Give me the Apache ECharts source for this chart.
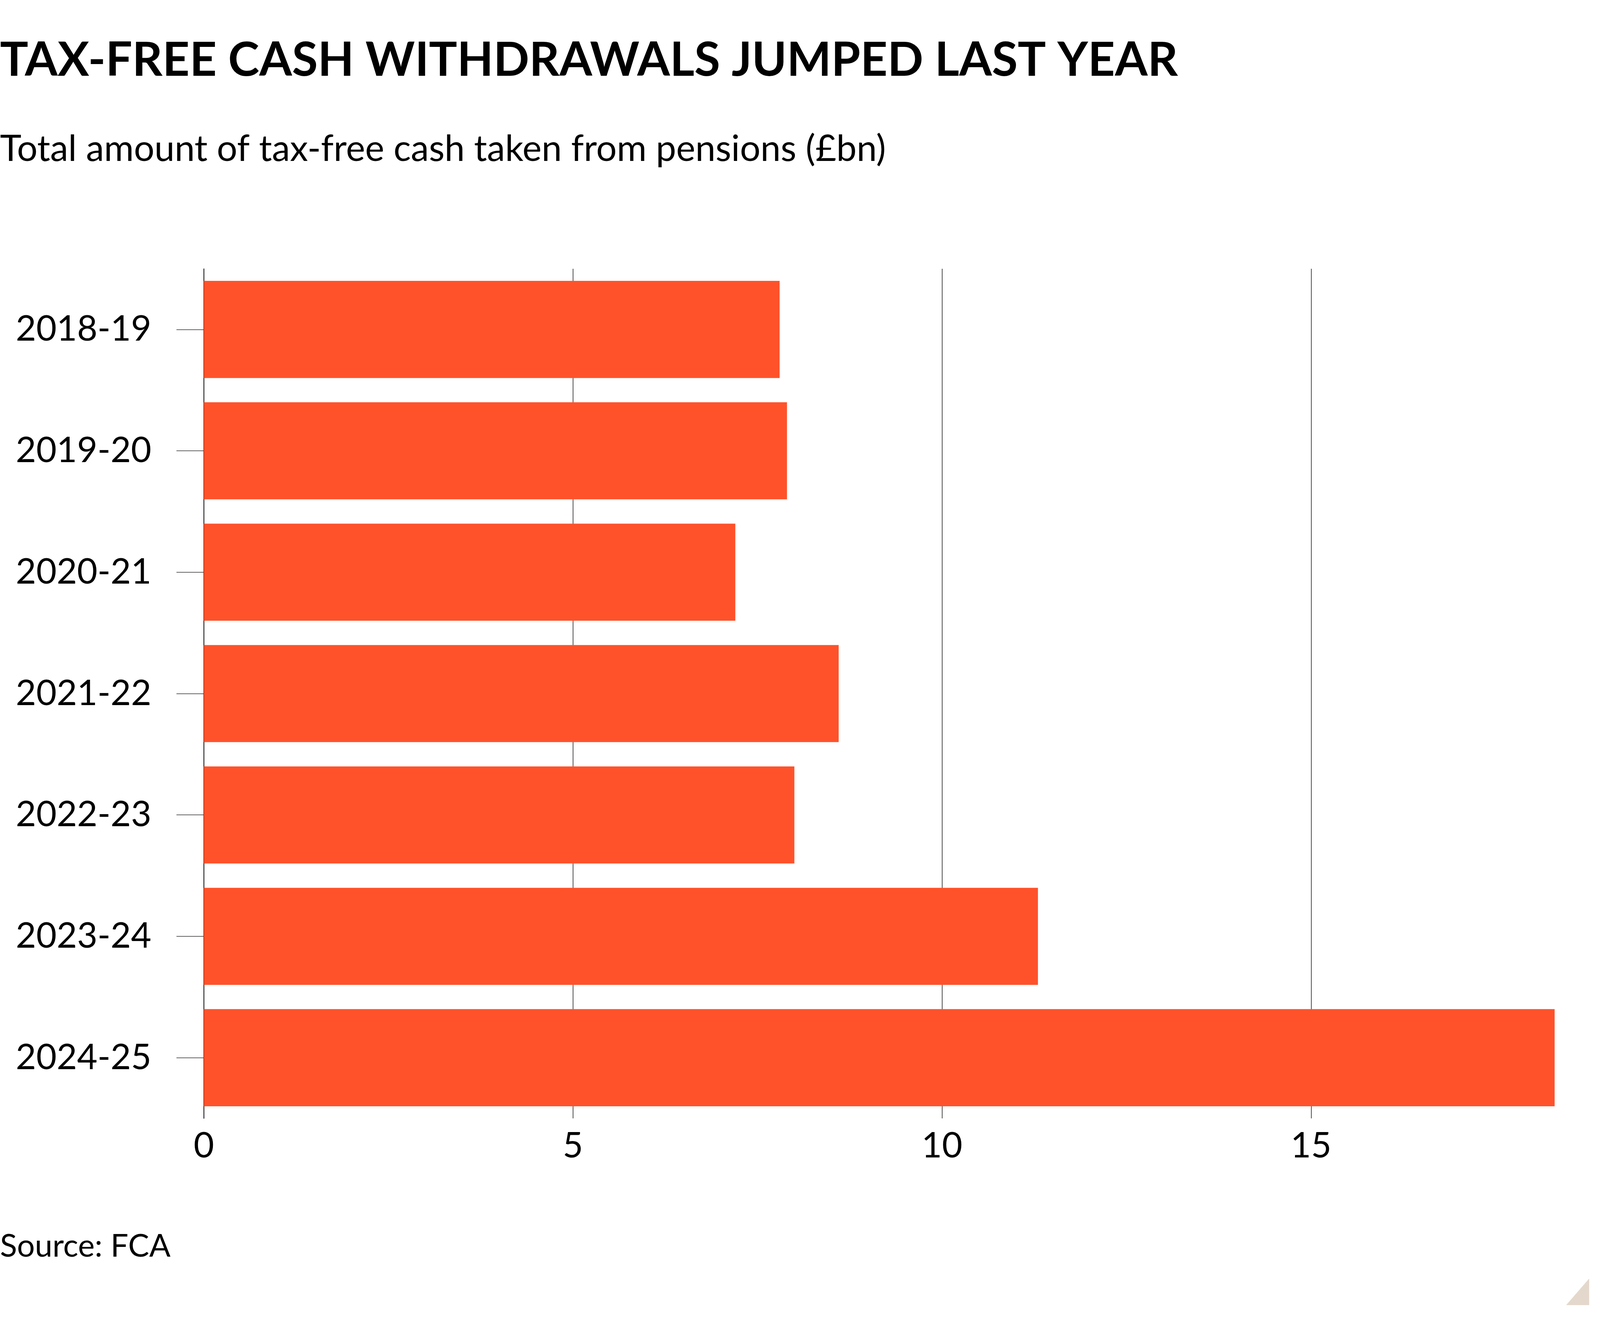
<html>
<head>
    <meta charset="utf-8">
    <title>Tax-free cash withdrawals</title>
    <script src="https://cdn.jsdelivr.net/npm/echarts@6/dist/echarts.min.js"></script>
    <style type="text/css">
        html,body{ margin:0; padding:0; width:100%; height:100%; overflow:hidden; background:#fff; }
        #main{ width:100%; height:100%; }
    </style>
</head>
<body>
    <div id="main"></div>
    <script type="text/javascript">
        // data
        var years = ['2018-19', '2019-20', '2020-21', '2021-22', '2022-23', '2023-24', '2024-25'];
        var cashBn = [7.8, 7.9, 7.2, 8.6, 8.0, 11.3, 18.3];
        var xTicks = [0, 5, 10, 15];

        var dom = document.getElementById('main');
        // layout was measured on a 4724x3374 picture, scale it to whatever the page really is
        var sx = dom.clientWidth / 4724;
        var sy = dom.clientHeight / 3374;
        function X(v){ return v * sx; }
        function Y(v){ return v * sy; }
        function F(v){ return v * Math.min(sx, sy); }

        var font = 'Lato, Roboto, sans-serif';
        var myChart = echarts.init(dom);
        var option = {
            backgroundColor: '#fff',
            animation: false,
            title: [{
                text: 'TAX-FREE CASH WITHDRAWALS JUMPED LAST YEAR',
                left: 0,
                top: Y(95),
                padding: 0,
                textStyle: { fontFamily: font, fontWeight: 'bold', fontSize: F(139), color: '#000' }
            }, {
                text: 'Total amount of tax-free cash taken from pensions (£bn)',
                left: 0,
                top: Y(336),
                padding: 0,
                textStyle: { fontFamily: font, fontWeight: 'normal', fontSize: F(107), color: '#000' }
            }, {
                text: 'Source: FCA',
                left: 0,
                top: Y(3150),
                padding: 0,
                textStyle: { fontFamily: font, fontWeight: 'normal', fontSize: F(93), color: '#000' }
            }],
            grid: { left: X(602), right: X(134), top: Y(688), bottom: Y(511), containLabel: false },
            xAxis: {
                type: 'value',
                min: 0,
                max: 18.3,
                interval: 5,
                axisLine: { show: false },
                axisTick: { show: false },
                splitLine: { show: true, lineStyle: { color: ['#333', '#333', '#333', '#333', 'rgba(0,0,0,0)'], width: F(2) } },
                axisLabel: {
                    margin: Y(26),
                    fontFamily: font, fontSize: F(104), color: '#000',
                    formatter: function (v) { return xTicks.indexOf(v) >= 0 ? String(v) : ''; }
                }
            },
            yAxis: {
                type: 'category',
                inverse: true,
                data: years,
                axisLine: { show: true, lineStyle: { color: '#000', width: F(2) } },
                axisTick: { show: true, alignWithLabel: true, length: X(81), lineStyle: { color: '#333', width: F(2) } },
                axisLabel: { margin: X(155), fontFamily: font, fontSize: F(104), color: '#000' },
                splitLine: { show: false }
            },
            series: [{
                name: 'Tax-free cash',
                type: 'bar',
                data: cashBn,
                barCategoryGap: '20%',
                itemStyle: { color: '#ff522b' }
            }],
            graphic: [{
                type: 'polygon',
                shape: { points: [[X(4692), Y(3273)], [X(4692), Y(3341)], [X(4624), Y(3341)]] },
                style: { fill: '#e4d8cc' }
            }]
        };
        myChart.setOption(option);
    </script>
</body>
</html>
